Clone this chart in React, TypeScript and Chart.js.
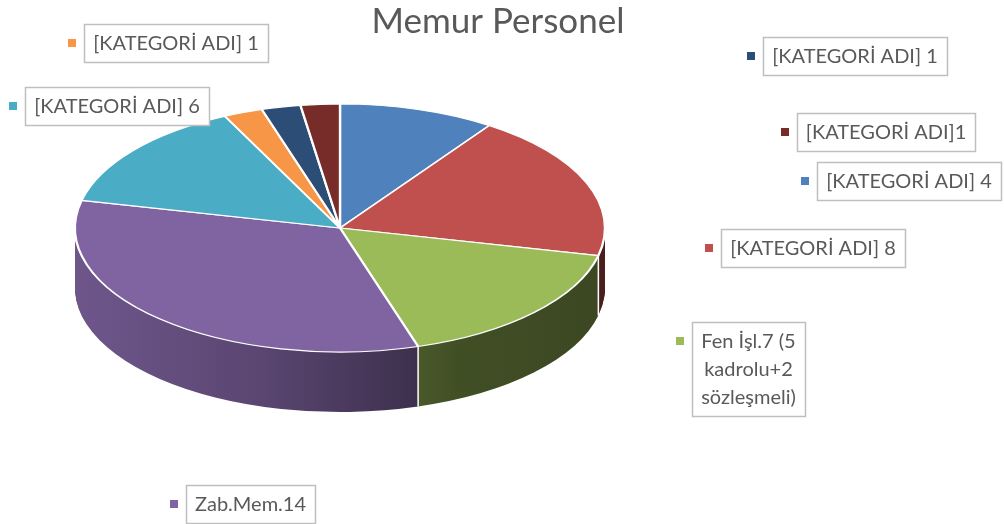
import React, { useEffect, useRef } from 'react';
import { Chart, registerables } from 'chart.js';

Chart.register(...registerables);

const TITLE = 'Memur Personel';

// Slices in clockwise order starting at 12 o'clock
const categories: (string | string[])[] = [
  '[KATEGORİ ADI] 4',
  '[KATEGORİ ADI] 8',
  ['Fen İşl.7 (5', 'kadrolu+2', 'sözleşmeli)'],
  'Zab.Mem.14',
  '[KATEGORİ ADI] 6',
  '[KATEGORİ ADI] 1',
  '[KATEGORİ ADI] 1',
  '[KATEGORİ ADI]1',
];
const values = [4, 8, 7, 14, 6, 1, 1, 1];
const colors = ['#4F81BD', '#C0504D', '#9BBB59', '#8064A2', '#4BACC6', '#F79646', '#2C4D75', '#772C2A'];

// Layout of the callout boxes (top-left corners), same order as categories
const calloutBoxes = [
  { left: 817, top: 162 },
  { left: 721, top: 229 },
  { left: 692, top: 322 },
  { left: 186, top: 485 },
  { left: 25, top: 87 },
  { left: 84, top: 24 },
  { left: 763, top: 37 },
  { left: 797, top: 113 },
];

const FONT = 'Lato, "Open Sans", sans-serif';
const TEXT_COLOR = '#595959';
const RX = 265; // ellipse half-width of the top face
const RY = 124; // ellipse half-height of the top face
const DEPTH = 60; // thickness of the 3D pie

function shade(hex: string, f: number): string {
  const n = parseInt(hex.slice(1), 16);
  const r = Math.round(((n >> 16) & 255) * f);
  const g = Math.round(((n >> 8) & 255) * f);
  const b = Math.round((n & 255) * f);
  return `rgb(${r},${g},${b})`;
}

const pie3d = {
  id: 'pie3d',
  beforeDatasetDraw(chart: any, args: any) {
    const ctx: CanvasRenderingContext2D = chart.ctx;
    const arcs = args.meta.data;
    const a0 = arcs[0];
    const cx = a0.x;
    const cy = a0.y;
    const R = a0.outerRadius;
    const sx = RX / R;
    const sy = RY / R;
    const grads = colors.map((c) => {
      const g = ctx.createLinearGradient(cx - R, 0, cx + R, 0);
      g.addColorStop(0, shade(c, 0.86));
      g.addColorStop(0.35, shade(c, 0.7));
      g.addColorStop(0.72, shade(c, 0.42));
      g.addColorStop(1, shade(c, 0.38));
      return g;
    });
    for (let d = DEPTH; d >= 1; d--) {
      ctx.save();
      ctx.translate(cx, cy + d);
      ctx.scale(sx, sy);
      ctx.translate(-cx, -cy);
      arcs.forEach((arc: any, i: number) => {
        const side = Object.create(arc);
        side.options = {
          backgroundColor: grads[i],
          borderColor: 'rgba(0,0,0,0)',
          borderWidth: 0,
          borderAlign: 'center',
          borderRadius: 0,
          offset: 0,
          spacing: 0,
          circular: true,
          borderDash: [],
          borderDashOffset: 0,
        };
        side.draw(ctx);
      });
      ctx.restore();
    }
    // white edges between slices on the visible side
    ctx.save();
    ctx.strokeStyle = '#ffffff';
    ctx.lineWidth = 1.5;
    arcs.forEach((arc: any) => {
      const a = arc.endAngle;
      if (Math.sin(a) > 0.05) {
        const x = cx + RX * Math.cos(a);
        const y = cy + RY * Math.sin(a);
        ctx.beginPath();
        ctx.moveTo(x, y);
        ctx.lineTo(x, y + DEPTH);
        ctx.stroke();
      }
    });
    ctx.restore();
    // top face transform
    ctx.save();
    ctx.translate(cx, cy);
    ctx.scale(sx, sy);
    ctx.translate(-cx, -cy);
  },
  afterDatasetDraw(chart: any) {
    chart.ctx.restore();
  },
};

const callouts = {
  id: 'callouts',
  afterDraw(chart: any) {
    const ctx: CanvasRenderingContext2D = chart.ctx;
    const labels = chart.data.labels as (string | string[])[];
    const bg = chart.data.datasets[0].backgroundColor as string[];
    ctx.save();
    // title
    ctx.font = `35px ${FONT}`;
    ctx.fillStyle = TEXT_COLOR;
    ctx.textAlign = 'center';
    ctx.textBaseline = 'alphabetic';
    ctx.fillText(TITLE, 498, 33);

    const fs = 20;
    const lineH = 28;
    const padX = 9;
    const padY = 5;
    ctx.font = `${fs}px ${FONT}`;
    labels.forEach((lab, i) => {
      const lines = Array.isArray(lab) ? lab : [lab];
      const w = Math.max(...lines.map((l) => ctx.measureText(l).width));
      const box = calloutBoxes[i];
      const bw = Math.round(w + 2 * padX);
      const bh = lines.length * lineH + 2 * padY;
      ctx.fillStyle = '#ffffff';
      ctx.fillRect(box.left, box.top, bw, bh);
      ctx.strokeStyle = '#BFBFBF';
      ctx.lineWidth = 1.5;
      ctx.strokeRect(box.left + 0.5, box.top + 0.5, bw, bh);
      ctx.fillStyle = TEXT_COLOR;
      ctx.textAlign = 'center';
      ctx.textBaseline = 'middle';
      lines.forEach((l, k) => {
        ctx.fillText(l, box.left + bw / 2, box.top + padY + lineH * (k + 0.5) + 1);
      });
      ctx.fillStyle = bg[i];
      ctx.fillRect(box.left - 16, box.top + padY + lineH / 2 - 4, 8, 8);
    });
    ctx.restore();
  },
};

export default function App() {
  const ref = useRef<HTMLCanvasElement | null>(null);
  useEffect(() => {
    document.body.style.margin = '0';
    document.body.style.overflow = 'hidden';
    const canvas = ref.current;
    if (!canvas) return;
    const chart = new Chart(canvas, {
      type: 'pie',
      data: {
        labels: categories as any,
        datasets: [
          {
            data: values,
            backgroundColor: colors,
            borderColor: '#ffffff',
            borderWidth: 1.6,
            clip: false as any,
          },
        ],
      },
      options: {
        animation: false,
        responsive: false,
        events: [],
        layout: { padding: { left: 160, right: 484, top: 48, bottom: 116 } },
        plugins: {
          legend: { display: false },
          tooltip: { enabled: false },
          title: { display: false },
        },
      },
      plugins: [pie3d, callouts],
    });
    return () => chart.destroy();
  }, []);
  return (
    <div style={{ width: 1004, height: 524, background: '#ffffff' }}>
      <canvas ref={ref} width={1004} height={524} style={{ display: 'block', width: 1004, height: 524 }} />
    </div>
  );
}
